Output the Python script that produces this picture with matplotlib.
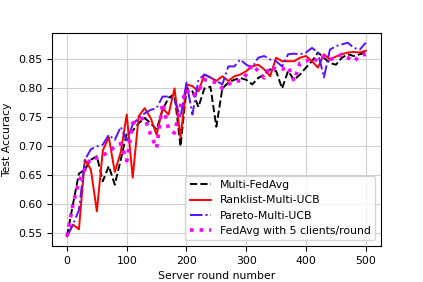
import numpy as np
import matplotlib
matplotlib.use("Agg")
import matplotlib.pyplot as plt

rounds = np.arange(0, 501, 10)

multi_fedavg = [0.545, 0.600, 0.653, 0.660, 0.677, 0.683, 0.640, 0.666, 0.634, 0.677,
                0.723, 0.727, 0.740, 0.749, 0.740, 0.729, 0.763, 0.784, 0.790, 0.700,
                0.800, 0.795, 0.768, 0.800, 0.803, 0.734, 0.800, 0.810, 0.815, 0.818,
                0.815, 0.807, 0.818, 0.824, 0.833, 0.830, 0.800, 0.830, 0.815, 0.824,
                0.836, 0.847, 0.862, 0.853, 0.844, 0.841, 0.853, 0.859, 0.856, 0.859,
                0.862]
ranklist_ucb = [0.545, 0.565, 0.557, 0.677, 0.660, 0.588, 0.693, 0.716, 0.656, 0.690,
                0.755, 0.646, 0.752, 0.766, 0.749, 0.720, 0.766, 0.755, 0.800, 0.715,
                0.807, 0.804, 0.795, 0.824, 0.819, 0.813, 0.821, 0.813, 0.821, 0.824,
                0.830, 0.838, 0.841, 0.833, 0.821, 0.853, 0.847, 0.847, 0.847, 0.853,
                0.856, 0.847, 0.836, 0.859, 0.850, 0.855, 0.859, 0.862, 0.863, 0.862,
                0.865]
pareto_ucb = [0.545, 0.565, 0.590, 0.677, 0.695, 0.700, 0.703, 0.720, 0.711, 0.734,
              0.710, 0.738, 0.749, 0.757, 0.763, 0.766, 0.786, 0.786, 0.780, 0.750,
              0.810, 0.755, 0.815, 0.824, 0.819, 0.813, 0.807, 0.838, 0.838, 0.850,
              0.841, 0.836, 0.853, 0.856, 0.850, 0.847, 0.838, 0.859, 0.860, 0.859,
              0.862, 0.870, 0.862, 0.819, 0.867, 0.873, 0.876, 0.879, 0.870, 0.867,
              0.879]
fedavg_5 = [0.545, 0.600, 0.640, 0.660, 0.680, 0.680, 0.685, 0.690, 0.700, 0.705,
            0.675, 0.740, 0.745, 0.750, 0.720, 0.697, 0.775, 0.730, 0.723, 0.770,
            0.798, 0.786, 0.795, 0.815, 0.813, 0.810, 0.800, 0.807, 0.813, 0.813,
            0.824, 0.841, 0.830, 0.818, 0.838, 0.833, 0.833, 0.838, 0.813, 0.844,
            0.847, 0.853, 0.847, 0.856, 0.850, 0.853, 0.859, 0.853, 0.847, 0.856,
            0.859]

plt.rcParams['font.size'] = 7.8

fig, ax = plt.subplots(figsize=(4.23, 2.82), dpi=100)
fig.subplots_adjust(left=0.123, right=0.9, top=0.883, bottom=0.128)

ax.plot(rounds, multi_fedavg, color='black', linestyle='--', linewidth=1.4, label='Multi-FedAvg')
ax.plot(rounds, ranklist_ucb, color='red', linestyle='-', linewidth=1.4, label='Ranklist-Multi-UCB')
ax.plot(rounds, pareto_ucb, color='#5a10ff', linestyle='-.', linewidth=1.4, label='Pareto-Multi-UCB')
ax.plot(rounds, fedavg_5, color='magenta', linestyle=':', linewidth=2.6, label='FedAvg with 5 clients/round')

ax.grid(True, color='#d0d0d0', linewidth=0.8)
ax.set_xlabel('Server round number')
ax.set_ylabel('Test Accuracy')
ax.legend(loc='lower right')

fig.savefig('out.png', dpi=100)
